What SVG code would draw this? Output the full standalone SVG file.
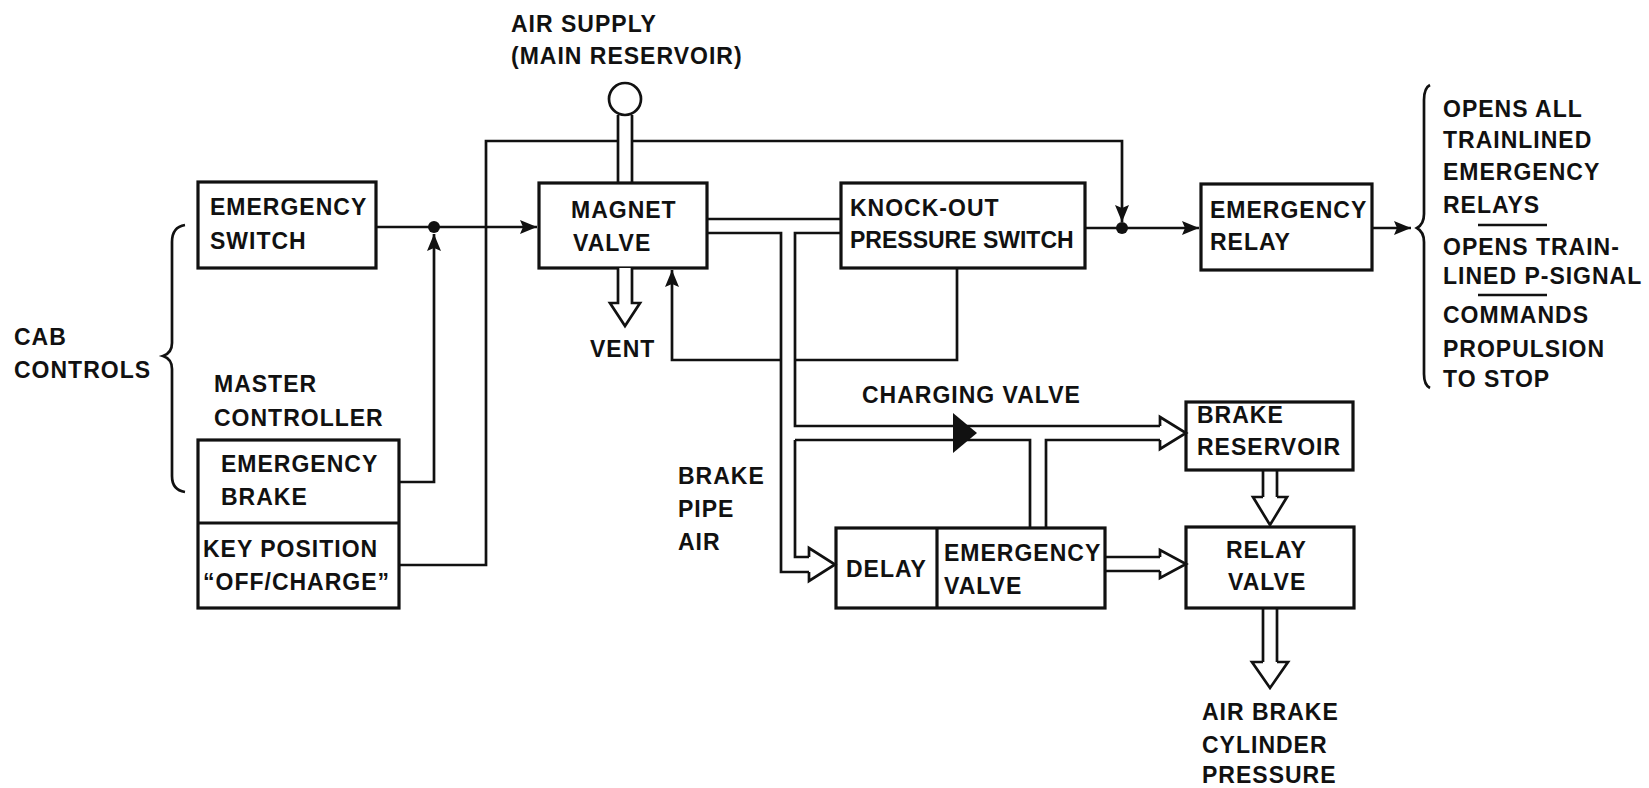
<svg xmlns="http://www.w3.org/2000/svg" width="1649" height="788" viewBox="0 0 1649 788">
<style>
text{font-family:"Liberation Sans",Arial,sans-serif;font-weight:bold;font-size:23px;letter-spacing:1px;fill:#111}
.tight{letter-spacing:0}
.box{fill:none;stroke:#111;stroke-width:3.2}
.ln{fill:none;stroke:#111;stroke-width:2.7}
.pipe{fill:none;stroke:#111;stroke-width:2.7;stroke-linejoin:miter}
.hol{fill:#fff;stroke:#111;stroke-width:2.7;stroke-linejoin:miter}
</style>
<defs>
<marker id="ah" markerWidth="18" markerHeight="16" refX="17" refY="8" orient="auto" markerUnits="userSpaceOnUse">
<path d="M0,1 L17,8 L0,15 L3,8 Z" fill="#111"/>
</marker>
</defs>
<rect width="1649" height="788" fill="#fff"/>

<g id="labels">
<text x="511" y="32">AIR SUPPLY</text>
<text x="511" y="64">(MAIN RESERVOIR)</text>
<text x="14" y="345">CAB</text>
<text x="14" y="378">CONTROLS</text>
<text x="214" y="392">MASTER</text>
<text x="214" y="426">CONTROLLER</text>
<text x="590" y="357">VENT</text>
<text x="862" y="403">CHARGING VALVE</text>
<text x="678" y="484">BRAKE</text>
<text x="678" y="517">PIPE</text>
<text x="678" y="550">AIR</text>
<text x="1202" y="720">AIR BRAKE</text>
<text x="1202" y="753">CYLINDER</text>
<text x="1202" y="783">PRESSURE</text>
<path class="ln" d="M185,225 Q172,227 172,242 L172,343 Q172,353 163,356 Q172,359 172,369 L172,476 Q172,490 185,492"/>
</g>

<g id="outputs">
<path class="ln" d="M1430,85 Q1424,88 1424,100 L1424,214 Q1424,224 1417,228 Q1424,232 1424,242 L1424,374 Q1424,385 1430,388"/>
<text x="1443" y="117">OPENS ALL</text>
<text x="1443" y="148">TRAINLINED</text>
<text x="1443" y="180">EMERGENCY</text>
<text x="1443" y="213">RELAYS</text>
<line class="ln" x1="1478" y1="225" x2="1547" y2="225"/>
<text x="1443" y="255">OPENS TRAIN-</text>
<text x="1443" y="284">LINED P-SIGNAL</text>
<line class="ln" x1="1478" y1="295" x2="1547" y2="295"/>
<text x="1443" y="323">COMMANDS</text>
<text x="1443" y="357">PROPULSION</text>
<text x="1443" y="387">TO STOP</text>
</g>

<g id="emergency-switch">
<rect class="box" x="198" y="182" width="178" height="86"/>
<text x="210" y="215">EMERGENCY</text>
<text x="210" y="249">SWITCH</text>
</g>

<g id="master-controller">
<rect class="box" x="198" y="440" width="201" height="168"/>
<line class="box" x1="198" y1="523" x2="399" y2="523"/>
<text x="221" y="472">EMERGENCY</text>
<text x="221" y="505">BRAKE</text>
<text x="203" y="557">KEY POSITION</text>
<text x="203" y="590">“OFF/CHARGE”</text>
</g>

<g id="magnet-valve">
<rect class="box" x="539" y="183" width="168" height="85"/>
<text x="571" y="218">MAGNET</text>
<text x="573" y="251">VALVE</text>
</g>

<g id="knockout-switch">
<rect class="box" x="841" y="183" width="244" height="85"/>
<text x="850" y="216">KNOCK-OUT</text>
<text class="tight" x="850" y="248">PRESSURE SWITCH</text>
</g>

<g id="emergency-relay">
<rect class="box" x="1201" y="184" width="171" height="86"/>
<text x="1210" y="218">EMERGENCY</text>
<text x="1210" y="250">RELAY</text>
</g>

<g id="brake-reservoir">
<rect class="box" x="1186" y="402" width="167" height="68"/>
<text x="1197" y="423">BRAKE</text>
<text x="1197" y="455">RESERVOIR</text>
</g>

<g id="relay-valve">
<rect class="box" x="1186" y="527" width="168" height="81"/>
<text x="1226" y="558">RELAY</text>
<text x="1228" y="590">VALVE</text>
</g>

<g id="delay-emergency-valve">
<rect class="box" x="836" y="528" width="269" height="80"/>
<line class="box" x1="937" y1="528" x2="937" y2="608"/>
<text x="846" y="577">DELAY</text>
<text x="944" y="561">EMERGENCY</text>
<text x="944" y="594">VALVE</text>
</g>

<g id="air-supply">
<circle class="ln" cx="625" cy="99" r="16"/>
</g>

<g id="connectors">
<line class="ln" x1="376" y1="227" x2="537" y2="227" marker-end="url(#ah)"/>
<circle cx="434" cy="227" r="6" fill="#111"/>
<polyline class="ln" points="399,482 434,482 434,234" marker-end="url(#ah)"/>
<polyline class="ln" points="399,565 486,565 486,141 617,141"/>
<polyline class="ln" points="632,141 1122,141 1122,222" marker-end="url(#ah)"/>
<line class="ln" x1="1085" y1="228" x2="1199" y2="228" marker-end="url(#ah)"/>
<circle cx="1122" cy="228" r="6" fill="#111"/>
<line class="ln" x1="1372" y1="228" x2="1411" y2="228" marker-end="url(#ah)"/>
<polyline class="ln" points="957,268 957,360 795,360"/>
<polyline class="ln" points="781,360 672,360 672,270" marker-end="url(#ah)"/>

<line class="pipe" x1="618" y1="115" x2="618" y2="183"/>
<line class="pipe" x1="632" y1="115" x2="632" y2="183"/>
<path class="hol" d="M618,268 L618,303 L610,303 L625,326 L640,303 L632,303 L632,268"/>
<line class="pipe" x1="707" y1="219" x2="841" y2="219"/>
<polyline class="pipe" points="707,233 781,233 781,572 809,572"/>
<polyline class="pipe" points="841,233 795,233 795,426 1160,426"/>
<polyline class="pipe" points="795,440 795,557 809,557"/>
<path class="hol" d="M809,557 L809,548 L835,564.5 L809,581 L809,572"/>
<polyline class="pipe" points="795,440 1030,440 1030,527"/>
<polyline class="pipe" points="1046,527 1046,440 1160,440"/>
<path d="M953,413 L977,433 L953,453 Z" fill="#111"/>
<path class="hol" d="M1160,426 L1160,417 L1186,433 L1160,449 L1160,440"/>
<line class="pipe" x1="1105" y1="557" x2="1160" y2="557"/>
<line class="pipe" x1="1105" y1="571" x2="1160" y2="571"/>
<path class="hol" d="M1160,557 L1160,550 L1186,564 L1160,578 L1160,571"/>
<line class="pipe" x1="1263" y1="470" x2="1263" y2="497"/>
<line class="pipe" x1="1277" y1="470" x2="1277" y2="497"/>
<path class="hol" d="M1263,497 L1253,497 L1270,525 L1287,497 L1277,497"/>
<line class="pipe" x1="1263" y1="608" x2="1263" y2="662"/>
<line class="pipe" x1="1277" y1="608" x2="1277" y2="662"/>
<path class="hol" d="M1263,662 L1252,662 L1270,688 L1288,662 L1277,662"/>
</g>
</svg>
